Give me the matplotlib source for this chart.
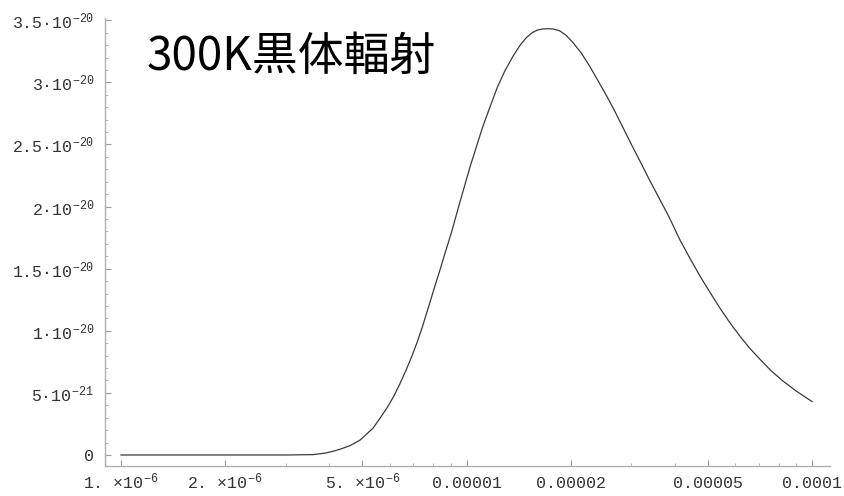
import matplotlib
matplotlib.use("Agg")
import matplotlib.pyplot as plt

plt.rcParams['mathtext.fontset'] = 'custom'
plt.rcParams['mathtext.rm'] = 'Liberation Mono'
plt.rcParams['mathtext.it'] = 'Liberation Mono'
plt.rcParams['mathtext.bf'] = 'Liberation Mono:bold'

# 波長 (m) と放射強度 (単位 1e-20)
wavelength = [1.0e-6, 2.0e-6, 3.0e-6, 3.6e-6, 3.9e-6, 4.11e-6, 4.30e-6, 4.6e-6,
              4.92e-6, 5.1e-6, 5.36e-6, 5.6e-6, 5.89e-6, 6.15e-6, 6.42e-6, 6.7e-6,
              6.96e-6, 7.2e-6, 7.43e-6, 7.84e-6, 8.1e-6, 8.38e-6, 8.7e-6, 9.02e-6,
              9.58e-6, 1.024e-5, 1.065e-5, 1.109e-5, 1.165e-5, 1.226e-5, 1.29e-5,
              1.363e-5, 1.43e-5, 1.49e-5, 1.55e-5, 1.60e-5, 1.665e-5, 1.721e-5,
              1.78e-5, 1.86e-5, 1.94e-5, 2.033e-5, 2.15e-5, 2.278e-5, 2.4e-5,
              2.551e-5, 2.7e-5, 2.838e-5, 3.0e-5, 3.178e-5, 3.37e-5, 3.559e-5,
              3.85e-5, 4.149e-5, 4.45e-5, 4.74e-5, 5.05e-5, 5.42e-5, 5.8e-5,
              6.19e-5, 6.6e-5, 7.07e-5, 7.6e-5, 8.24e-5, 9.0e-5, 1.0e-4]
intensity = [0.0, 0.0, 0.0, 0.003, 0.015, 0.03, 0.046, 0.075,
             0.12, 0.16, 0.215, 0.29, 0.38, 0.47, 0.575, 0.69,
             0.80, 0.91, 1.02, 1.23, 1.36, 1.49, 1.64, 1.78,
             2.04, 2.32, 2.47, 2.625, 2.79, 2.955, 3.09,
             3.21, 3.30, 3.36, 3.40, 3.42, 3.43, 3.432,
             3.43, 3.415, 3.38, 3.32, 3.235, 3.125, 3.015,
             2.885, 2.755, 2.635, 2.50, 2.365, 2.225, 2.10,
             1.92, 1.73, 1.575, 1.44, 1.315, 1.18, 1.06,
             0.955, 0.86, 0.77, 0.68, 0.595, 0.515, 0.43]

x_major = [1e-6, 2e-6, 5e-6, 1e-5, 2e-5, 5e-5, 1e-4]
x_labels = ['1. ×10$^{-6}$', '2. ×10$^{-6}$', '5. ×10$^{-6}$',
            '0.00001', '0.00002', '0.00005', '0.0001']
x_minor = [3e-6, 4e-6, 6e-6, 7e-6, 8e-6, 9e-6,
           3e-5, 4e-5, 6e-5, 7e-5, 8e-5, 9e-5]

y_major = [0, 0.5, 1.0, 1.5, 2.0, 2.5, 3.0, 3.5]
y_labels = ['0', '5·10$^{-21}$', '1·10$^{-20}$', '1.5·10$^{-20}$',
            '2·10$^{-20}$', '2.5·10$^{-20}$', '3·10$^{-20}$', '3.5·10$^{-20}$']
y_minor = [i * 0.1 for i in range(36) if i % 5 != 0]

fig = plt.figure(figsize=(8.44, 4.96), dpi=100)
ax = fig.add_axes([0.1244, 0.0605, 0.859, 0.9032])

ax.plot(wavelength, intensity, color='#3a3a3a', lw=0.9)
ax.set_xscale('log')
ax.set_xlim(8.99e-7, 1.127e-4)
ax.set_ylim(-0.0886, 3.518)

for s in ['top', 'right']:
    ax.spines[s].set_visible(False)
for s in ['left', 'bottom']:
    ax.spines[s].set_color('#b0b0b0')
    ax.spines[s].set_linewidth(1.0)

ax.set_xticks(x_major)
ax.set_xticklabels(x_labels)
ax.set_xticks(x_minor, minor=True)
ax.set_xticklabels([], minor=True)
ax.set_yticks(y_major)
ax.set_yticklabels(y_labels)
ax.set_yticks(y_minor, minor=True)

ax.tick_params(which='major', direction='in', length=4, width=0.8, color='#999999',
               labelsize=12, labelcolor='#333333', pad=8)
ax.tick_params(axis='x', which='major', pad=16)
ax.tick_params(which='minor', direction='in', length=2.5, width=0.6, color='#aaaaaa')
for lab in ax.get_xticklabels() + ax.get_yticklabels():
    lab.set_family('Liberation Mono')
# 指数付きラベルと数字だけのラベルのベースラインを揃える
for lab in ax.get_xticklabels():
    lab.set_verticalalignment('baseline')

fig.text(147 / 844, 1 - 70 / 496, '300K黒体輻射', fontsize=33, color='black',
         family=['Noto Sans CJK JP', 'DejaVu Sans'], va='baseline', ha='left')

fig.savefig('out.png', dpi=100, facecolor='white')
